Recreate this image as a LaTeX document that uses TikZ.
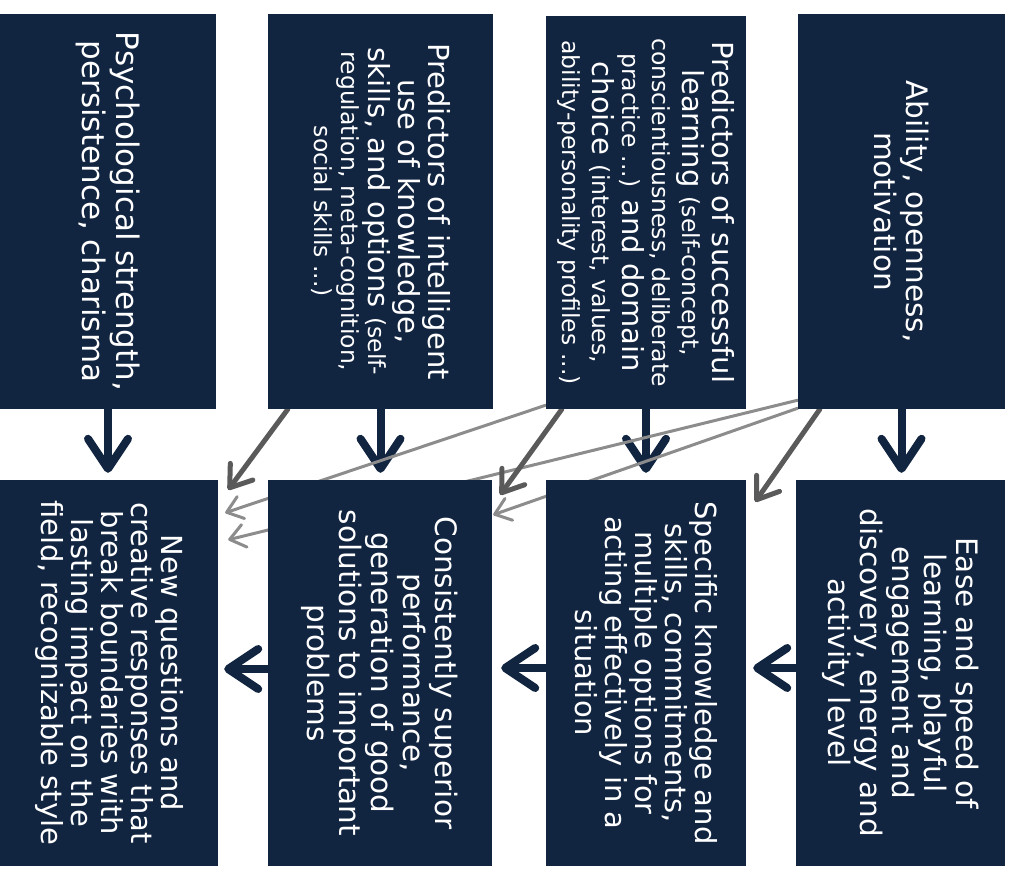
\documentclass[tikz,border=0pt]{standalone}
\usepackage{fontspec}
\setmainfont{DejaVu Sans}
\usetikzlibrary{arrows.meta,calc}
\definecolor{navy}{HTML}{112440}
\definecolor{darkgrey}{HTML}{5A5A5A}
\definecolor{lightgrey}{HTML}{8C8C8C}
\newcommand\bigtxt{\fontsize{29.5}{32}\selectfont}
\newcommand\largetxt{\fontsize{31}{34}\selectfont}
\newcommand\tighttxt{\fontsize{29}{30}\selectfont}
\newcommand\smtxt{\fontsize{23.5}{27}\selectfont}
\pgfdeclarelayer{background}
\pgfsetlayers{background,main}
\tikzset{
  box/.style={fill=navy, draw=none, inner sep=0pt},
  boxtext/.style={rotate=-90, align=center, text=white, inner sep=0pt, font=\bigtxt},
  flowarrow/.style={draw=navy, line width=8pt, line cap=round,
    -{Straight Barb[length=30pt, width=40pt, round]}},
  strongarrow/.style={draw=darkgrey, line width=5pt, line cap=round,
    -{Straight Barb[length=20pt, width=28pt, round]}},
  weakarrow/.style={draw=lightgrey, line width=3pt, line cap=round,
    -{Straight Barb[length=15pt, width=23pt, round]}}
}
\begin{document}
\begin{tikzpicture}[x=1pt, y=1pt]
\useasboundingbox (0,0) rectangle (1011,870);

% upper row
\node[box, minimum width=216pt, minimum height=395pt] (t1) at (108,658.5) {};
\node[box, minimum width=225pt, minimum height=395pt] (t2) at (380.5,658.5) {};
\node[box, minimum width=200pt, minimum height=393pt] (t3) at (646,657.5) {};
\node[box, minimum width=207pt, minimum height=395pt] (t4) at (901.5,658.5) {};
% lower row
\node[box, minimum width=218pt, minimum height=386pt] (b1) at (109,197) {};
\node[box, minimum width=224pt, minimum height=386pt] (b2) at (380,197) {};
\node[box, minimum width=200pt, minimum height=386pt] (b3) at (646,197) {};
\node[box, minimum width=209pt, minimum height=386pt] (b4) at (900.5,197) {};

% labels
\node[boxtext, font=\largetxt] (t1text) at (t1) {Psychological strength,\\persistence, charisma};
\node[boxtext, font=\tighttxt] (t2text) at (t2) {Predictors of intelligent\\use of knowledge,\\skills, and options {\smtxt (self-}\\[-3pt]{\smtxt regulation, meta-cognition,}\\[-3pt]{\smtxt social skills ...)}};
\node[boxtext, font=\tighttxt] (t3text) at (t3) {Predictors of successful\\learning {\smtxt (self-concept,}\\{\smtxt conscientiousness, deliberate}\\{\smtxt practice ...)} and domain\\choice {\smtxt (interest, values,}\\{\smtxt ability-personality profiles ...)}};
\node[boxtext] (t4text) at (t4) {Ability, openness,\\motivation};
\node[boxtext, font=\tighttxt] (b1text) at (b1) {New questions and\\creative responses that\\break boundaries with\\lasting impact on the\\field, recognizable style};
\node[boxtext] (b2text) at (b2) {Consistently superior\\performance,\\generation of good\\solutions to important\\problems};
\node[boxtext, font=\tighttxt] (b3text) at (b3) {Specific knowledge and\\skills, commitments,\\multiple options for\\acting effectively in a\\situation};
\node[boxtext] (b4text) at (b4) {Ease and speed of\\learning, playful\\engagement and\\discovery, energy and\\activity level};

\begin{pgfonlayer}{background}
  % downward influences
  \draw[flowarrow] (t1.south) -- ($(t1.south |- b1.north)+(0,7)$);
  \draw[flowarrow] (t2.south) -- ($(t2.south |- b2.north)+(0,7)$);
  \draw[flowarrow] (t3.south) -- ($(t3.south |- b3.north)+(0,7)$);
  \draw[flowarrow] (t4.south) -- ($(t4.south |- b4.north)+(0,7)$);
  % sequence of outcomes
  \draw[flowarrow] ($(b4.west)+(0,5)$) -- ($(b3.east)+(7,5)$);
  \draw[flowarrow] ($(b3.west)+(0,5)$) -- ($(b2.east)+(9,5)$);
  \draw[flowarrow] ($(b2.west)+(0,4)$) -- ($(b1.east)+(6,4)$);
  % cross influences
  \draw[weakarrow] ($(t3.south west)+(0,4)$) -- ($(b1.north east)+(7,-33)$);
  \draw[weakarrow] ($(t4.south west)+(0,9)$) -- ($(b1.north east)+(10,-60)$);
  \draw[weakarrow] ($(t4.south west)+(0,1)$) -- ($(b2.north east)+(1,-35)$);
  \draw[strongarrow] ($(t2.south west)+(20,0)$) -- ($(b1.north east)+(10,-10)$);
  \draw[strongarrow] ($(t3.south west)+(16,0)$) -- ($(b2.north east)+(8,-15)$);
  \draw[strongarrow] ($(t4.south west)+(22,0)$) -- ($(b3.north east)+(9,-22)$);
\end{pgfonlayer}
\end{tikzpicture}
\end{document}
